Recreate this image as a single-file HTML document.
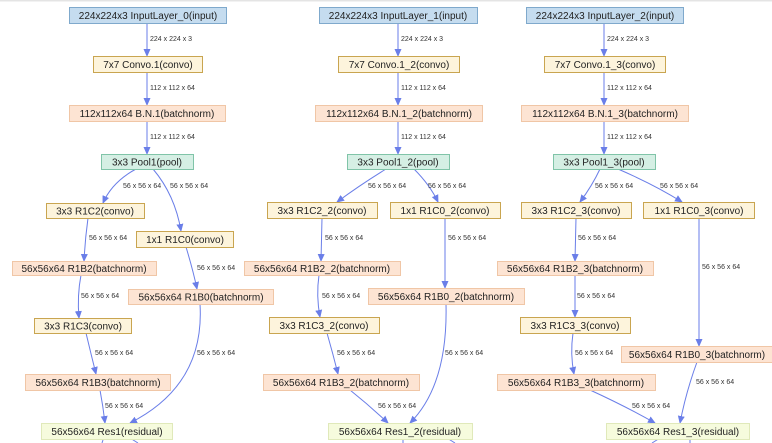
<!DOCTYPE html>
<html><head><meta charset="utf-8"><style>
html,body{margin:0;padding:0;background:#fff;}
svg{display:block;font-family:"Liberation Sans",Arial,sans-serif;}
.n{font-size:10px;fill:#222;text-anchor:middle;}
.l{font-size:7px;fill:#333;}
.e{fill:none;stroke:#6a7ee8;stroke-width:1;}
.in{fill:#c5dcef;stroke:#7fa9cc;}
.cv{fill:#fdf4dc;stroke:#c9a550;}
.bn{fill:#fde4d3;stroke:#f0c6a6;}
.pl{fill:#d5efe4;stroke:#80c4a8;}
.rs{fill:#f6fbdd;stroke:#e0e9ba;}
</style></head><body>
<svg width="772" height="443" viewBox="0 0 772 443">
<defs><marker id="a" markerWidth="8" markerHeight="8" refX="7" refY="4" orient="auto" markerUnits="userSpaceOnUse"><path d="M0,0.5 L8,4 L0,7.5z" fill="#6a7ee8"/></marker></defs>
<rect x="0" y="0" width="772" height="1.5" fill="#e4e4e4"/>
<g class="e" marker-end="url(#a)">
<!-- col1 -->
<path d="M147,23 L147,56"/><path d="M147,72 L147,105"/><path d="M147,121 L147,154"/>
<path d="M136,169 Q112,182 103,203"/><path d="M153,169 Q175,195 181,231"/>
<path d="M88,218 Q85,240 84,261"/><path d="M186,247 Q193,270 197,289"/>
<path d="M81,275 Q77,296 79,318"/><path d="M86,333 Q91,354 96,374"/>
<path d="M100,390 Q103,406 105,423"/><path d="M200,304 Q205,385 130,423"/>
<!-- col2 -->
<path d="M398,23 L398,56"/><path d="M398,72 L398,105"/><path d="M398,121 L398,154"/>
<path d="M386,169 Q360,185 337,202"/><path d="M414,169 Q430,185 438,202"/>
<path d="M322,218 L321,261"/><path d="M445,218 L445,288"/>
<path d="M319,275 Q316,296 320,317"/><path d="M327,333 Q333,354 338,374"/>
<path d="M350,390 Q370,406 388,423"/><path d="M446,304 Q448,385 410,423"/>
<!-- col3 -->
<path d="M604,23 L604,56"/><path d="M604,72 L604,105"/><path d="M604,121 L604,154"/>
<path d="M600,169 Q592,186 580,202"/><path d="M618,169 Q655,185 682,202"/>
<path d="M576,218 L575,261"/><path d="M699,218 L699,346"/>
<path d="M575,275 L575,317"/><path d="M573,333 Q570,354 574,374"/>
<path d="M590,390 Q625,406 655,423"/><path d="M697,362 Q686,392 680,423"/>
</g>
<g class="e">
<path d="M103,440 L102,443"/><path d="M130,438 L138,443"/>
<path d="M403,438 L403,443"/><path d="M447,438 L455,443"/>
<path d="M660,438 L652,443"/><path d="M690,438 L690,443"/>
</g>
<g class="l">
<text x="150" y="41">224 x 224 x 3</text><text x="150" y="90">112 x 112 x 64</text><text x="150" y="139">112 x 112 x 64</text>
<text x="123" y="188">56 x 56 x 64</text><text x="170" y="188">56 x 56 x 64</text>
<text x="89" y="240">56 x 56 x 64</text><text x="197" y="270">56 x 56 x 64</text>
<text x="81" y="298">56 x 56 x 64</text><text x="95" y="355">56 x 56 x 64</text>
<text x="105" y="408">56 x 56 x 64</text><text x="197" y="355">56 x 56 x 64</text>
<text x="401" y="41">224 x 224 x 3</text><text x="401" y="90">112 x 112 x 64</text><text x="401" y="139">112 x 112 x 64</text>
<text x="368" y="188">56 x 56 x 64</text><text x="428" y="188">56 x 56 x 64</text>
<text x="325" y="240">56 x 56 x 64</text><text x="448" y="240">56 x 56 x 64</text>
<text x="322" y="298">56 x 56 x 64</text><text x="337" y="355">56 x 56 x 64</text>
<text x="378" y="408">56 x 56 x 64</text><text x="445" y="355">56 x 56 x 64</text>
<text x="607" y="41">224 x 224 x 3</text><text x="607" y="90">112 x 112 x 64</text><text x="607" y="139">112 x 112 x 64</text>
<text x="595" y="188">56 x 56 x 64</text><text x="660" y="188">56 x 56 x 64</text>
<text x="578" y="240">56 x 56 x 64</text><text x="702" y="269">56 x 56 x 64</text>
<text x="577" y="298">56 x 56 x 64</text><text x="575" y="355">56 x 56 x 64</text>
<text x="632" y="408">56 x 56 x 64</text><text x="696" y="384">56 x 56 x 64</text>
</g>
<!-- col1 nodes -->
<rect class="in" x="69.5" y="7.5" width="157" height="16"/><text class="n" x="148" y="19">224x224x3 InputLayer_0(input)</text>
<rect class="cv" x="93.5" y="56.5" width="109" height="16"/><text class="n" x="148" y="68">7x7 Convo.1(convo)</text>
<rect class="bn" x="69.5" y="105.5" width="156" height="16"/><text class="n" x="147" y="117">112x112x64 B.N.1(batchnorm)</text>
<rect class="pl" x="101.5" y="154.5" width="92" height="15"/><text class="n" x="147" y="165.5">3x3 Pool1(pool)</text>
<rect class="cv" x="46.5" y="203.5" width="98" height="15"/><text class="n" x="95" y="214.5">3x3 R1C2(convo)</text>
<rect class="cv" x="136.5" y="231.5" width="97" height="16"/><text class="n" x="185" y="243">1x1 R1C0(convo)</text>
<rect class="bn" x="12.5" y="261.5" width="144" height="14"/><text class="n" x="84" y="272">56x56x64 R1B2(batchnorm)</text>
<rect class="bn" x="128.5" y="289.5" width="145" height="15"/><text class="n" x="201" y="300.5">56x56x64 R1B0(batchnorm)</text>
<rect class="cv" x="34.5" y="318.5" width="97" height="15"/><text class="n" x="83" y="329.5">3x3 R1C3(convo)</text>
<rect class="bn" x="25.5" y="374.5" width="145" height="16"/><text class="n" x="98" y="386">56x56x64 R1B3(batchnorm)</text>
<rect class="rs" x="41.5" y="423.5" width="131" height="16"/><text class="n" x="107" y="435">56x56x64 Res1(residual)</text>
<!-- col2 -->
<rect class="in" x="319.5" y="7.5" width="158" height="16"/><text class="n" x="398" y="19">224x224x3 InputLayer_1(input)</text>
<rect class="cv" x="338.5" y="56.5" width="121" height="16"/><text class="n" x="399" y="68">7x7 Convo.1_2(convo)</text>
<rect class="bn" x="315.5" y="105.5" width="167" height="16"/><text class="n" x="399" y="117">112x112x64 B.N.1_2(batchnorm)</text>
<rect class="pl" x="347.5" y="154.5" width="102" height="15"/><text class="n" x="398" y="165.5">3x3 Pool1_2(pool)</text>
<rect class="cv" x="267.5" y="202.5" width="110" height="16"/><text class="n" x="322" y="214">3x3 R1C2_2(convo)</text>
<rect class="cv" x="390.5" y="202.5" width="110" height="16"/><text class="n" x="445" y="214">1x1 R1C0_2(convo)</text>
<rect class="bn" x="244.5" y="261.5" width="156" height="14"/><text class="n" x="322" y="272">56x56x64 R1B2_2(batchnorm)</text>
<rect class="bn" x="368.5" y="288.5" width="156" height="16"/><text class="n" x="446" y="300">56x56x64 R1B0_2(batchnorm)</text>
<rect class="cv" x="269.5" y="317.5" width="110" height="16"/><text class="n" x="324" y="329">3x3 R1C3_2(convo)</text>
<rect class="bn" x="263.5" y="374.5" width="156" height="16"/><text class="n" x="341" y="386">56x56x64 R1B3_2(batchnorm)</text>
<rect class="rs" x="328.5" y="423.5" width="144" height="16"/><text class="n" x="400" y="435">56x56x64 Res1_2(residual)</text>
<!-- col3 -->
<rect class="in" x="526.5" y="7.5" width="157" height="16"/><text class="n" x="605" y="19">224x224x3 InputLayer_2(input)</text>
<rect class="cv" x="544.5" y="56.5" width="121" height="16"/><text class="n" x="605" y="68">7x7 Convo.1_3(convo)</text>
<rect class="bn" x="521.5" y="105.5" width="167" height="16"/><text class="n" x="605" y="117">112x112x64 B.N.1_3(batchnorm)</text>
<rect class="pl" x="553.5" y="154.5" width="102" height="15"/><text class="n" x="604" y="165.5">3x3 Pool1_3(pool)</text>
<rect class="cv" x="521.5" y="202.5" width="110" height="16"/><text class="n" x="576" y="214">3x3 R1C2_3(convo)</text>
<rect class="cv" x="643.5" y="202.5" width="111" height="16"/><text class="n" x="699" y="214">1x1 R1C0_3(convo)</text>
<rect class="bn" x="497.5" y="261.5" width="156" height="14"/><text class="n" x="575" y="272">56x56x64 R1B2_3(batchnorm)</text>
<rect class="cv" x="520.5" y="317.5" width="110" height="16"/><text class="n" x="575" y="329">3x3 R1C3_3(convo)</text>
<rect class="bn" x="621.5" y="346.5" width="152" height="16"/><text class="n" x="697" y="358">56x56x64 R1B0_3(batchnorm)</text>
<rect class="bn" x="497.5" y="374.5" width="158" height="16"/><text class="n" x="576" y="386">56x56x64 R1B3_3(batchnorm)</text>
<rect class="rs" x="606.5" y="423.5" width="143" height="16"/><text class="n" x="678" y="435">56x56x64 Res1_3(residual)</text>
</svg>
</body></html>
